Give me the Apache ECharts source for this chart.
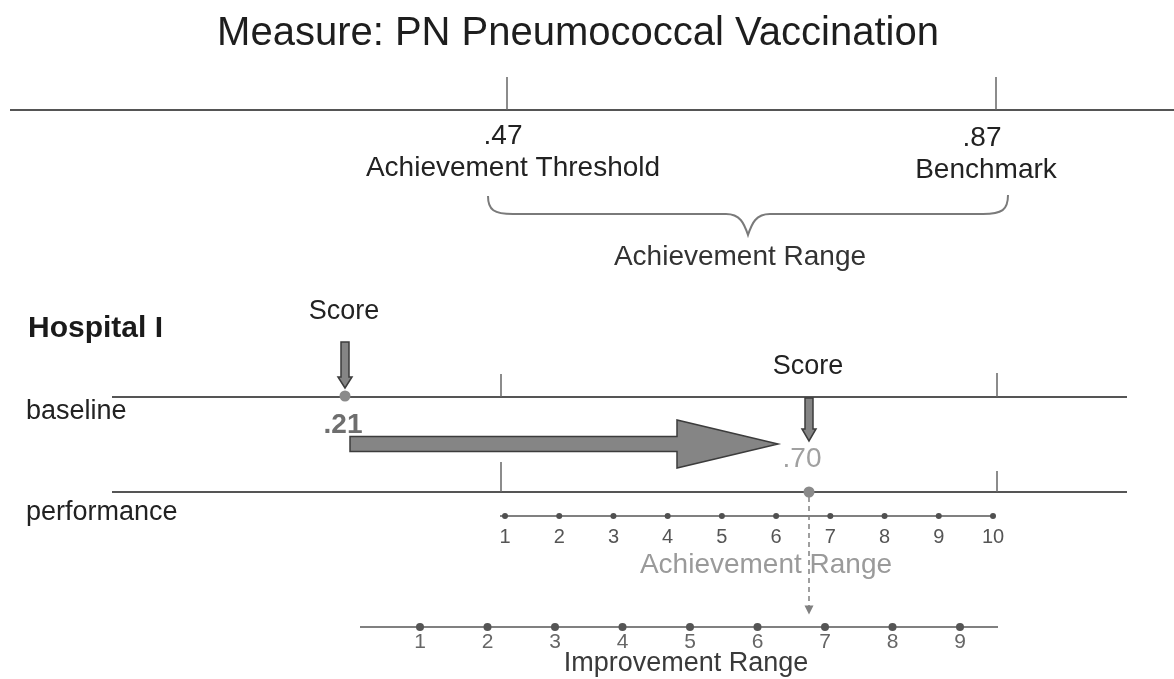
<!DOCTYPE html>
<html>
<head>
<meta charset="utf-8">
<script src="https://cdn.jsdelivr.net/npm/echarts@6/dist/echarts.min.js"></script>
<style>
  html, body { margin: 0; padding: 0; background: #ffffff; }
  #chart { width: 1174px; height: 679px; }
</style>
</head>
<body>
<div id="chart"></div>
<script>
// ---------------- DATA ----------------
const title = 'Measure: PN Pneumococcal Vaccination';
const scaleValues = ['.47', '.87'];
const scaleNames = ['Achievement Threshold', 'Benchmark'];
const hospitalName = 'Hospital I';
const rowNames = ['baseline', 'performance'];
const scoreLabel = 'Score';
const scores = ['.21', '.70'];
const achievementPoints = [1, 2, 3, 4, 5, 6, 7, 8, 9, 10];
const improvementPoints = [1, 2, 3, 4, 5, 6, 7, 8, 9];
const rangeNames = ['Achievement Range', 'Achievement Range', 'Improvement Range'];

// ---------------- LAYOUT (diagram units, 0..1174 x 0..679) ----------------
const W = 1174, H = 679;
const L = {
  topY: 110, baseY: 397, perfY: 492, achY: 516, impY: 627,
  scaleX: [507, 996],            // threshold / benchmark ticks (top scale)
  rowTickX: [501, 997],          // threshold / benchmark ticks on hospital rows
  scoreX: [345, 809],            // baseline / performance score positions
  ach: { first: 505, last: 993 },
  imp: { first: 420, last: 960 }
};
const FONT = 'Liberation Sans, Arial, Helvetica, sans-serif';

// achievement / improvement point scales (point number -> diagram x)
function axisRange(points, first, last) {
  const n0 = points[0], n1 = points[points.length - 1];
  const step = (last - first) / (n1 - n0);
  return { min: n0 - first / step, max: n1 + (W - last) / step };
}
const achRange = axisRange(achievementPoints, L.ach.first, L.ach.last);
const impRange = axisRange(improvementPoints, L.imp.first, L.imp.last);

// ---------------- RULES (lines) ----------------
const rules = [
  { coords: [[10, L.topY], [W, L.topY]], w: 2, c: '#555' },
  { coords: [[L.scaleX[0], 77], [L.scaleX[0], L.topY]], w: 1.5, c: '#666' },
  { coords: [[L.scaleX[1], 77], [L.scaleX[1], L.topY]], w: 1.5, c: '#666' },
  { coords: [[112, L.baseY], [1127, L.baseY]], w: 2, c: '#555' },
  { coords: [[L.rowTickX[0], 374], [L.rowTickX[0], L.baseY]], w: 1.5, c: '#666' },
  { coords: [[L.rowTickX[1], 373], [L.rowTickX[1], L.baseY]], w: 1.5, c: '#666' },
  { coords: [[112, L.perfY], [1127, L.perfY]], w: 2, c: '#555' },
  { coords: [[L.rowTickX[0], 462], [L.rowTickX[0], L.perfY]], w: 1.5, c: '#666' },
  { coords: [[L.rowTickX[1], 471], [L.rowTickX[1], L.perfY]], w: 1.5, c: '#666' },
  { coords: [[500, L.achY], [995, L.achY]], w: 2, c: '#808080' },
  { coords: [[360, L.impY], [998, L.impY]], w: 2, c: '#808080' }
];

// ---------------- TEXTS ----------------
const texts = [
  { x: 578, y: 34, t: title, size: 40, color: '#1e1e1e' },
  { x: 503, y: 136, t: scaleValues[0], size: 28, color: '#222' },
  { x: 513, y: 168, t: scaleNames[0], size: 28, color: '#222' },
  { x: 982, y: 138, t: scaleValues[1], size: 28, color: '#222' },
  { x: 986, y: 170, t: scaleNames[1], size: 28, color: '#222' },
  { x: 740, y: 257, t: rangeNames[0], size: 28, color: '#333' },
  { x: 28, y: 329, t: hospitalName, size: 30, color: '#1a1a1a', weight: 'bold', align: 'left' },
  { x: 344, y: 312, t: scoreLabel, size: 27, color: '#222' },
  { x: 808, y: 367, t: scoreLabel, size: 27, color: '#222' },
  { x: 26, y: 412, t: rowNames[0], size: 27, color: '#222', align: 'left' },
  { x: 26, y: 513, t: rowNames[1], size: 27, color: '#222', align: 'left' },
  { x: 343, y: 425, t: scores[0], size: 28, color: '#6e6e6e', weight: 'bold' },
  { x: 802, y: 459, t: scores[1], size: 28, color: '#a0a0a0' },
  { x: 766, y: 565, t: rangeNames[1], size: 28, color: '#9a9a9a' },
  { x: 686, y: 664, t: rangeNames[2], size: 27, color: '#3a3a3a' }
];

const option = {
  backgroundColor: '#ffffff',
  animation: false,
  grid: { left: 0, right: 0, top: 0, bottom: 0 },
  xAxis: [
    { type: 'value', min: 0, max: W, show: false },
    { type: 'value', min: achRange.min, max: achRange.max, show: false },
    { type: 'value', min: impRange.min, max: impRange.max, show: false }
  ],
  yAxis: [{ type: 'value', min: 0, max: H, inverse: true, show: false }],
  series: [
    {
      type: 'lines', coordinateSystem: 'cartesian2d', xAxisIndex: 0, yAxisIndex: 0,
      silent: true, z: 1,
      data: rules.map(r => ({ coords: r.coords, lineStyle: { width: r.w, color: r.c, opacity: 1 } }))
    },
    // dashed arrow from performance score down to improvement range
    {
      type: 'lines', coordinateSystem: 'cartesian2d', xAxisIndex: 0, yAxisIndex: 0,
      silent: true, z: 2,
      symbol: ['none', 'triangle'], symbolSize: [0, 9],
      lineStyle: { type: [5, 4], width: 1.5, color: '#808080', opacity: 1 },
      data: [{ coords: [[L.scoreX[1], L.perfY + 5], [L.scoreX[1], 610]] }]
    },
    // brace for achievement range
    {
      type: 'custom', coordinateSystem: 'cartesian2d', xAxisIndex: 0, yAxisIndex: 0,
      silent: true, z: 2,
      data: [[488, 1008, 196, 214, 235]],
      renderItem: function (params, api) {
        const x1 = api.value(0), x2 = api.value(1);
        const yEnd = api.value(2), yBar = api.value(3), yTip = api.value(4);
        const xm = (x1 + x2) / 2;
        const P = (x, y) => api.coord([x, y]);
        const a = P(x1, yEnd), b = P(x1 + 25, yBar), c = P(xm - 22, yBar), t = P(xm, yTip);
        const d = P(xm + 22, yBar), e = P(x2 - 25, yBar), f = P(x2, yEnd - 1);
        const path =
          'M' + a[0] + ' ' + a[1] +
          ' C' + a[0] + ' ' + (b[1] - 4) + ' ' + (a[0] + 6) + ' ' + b[1] + ' ' + b[0] + ' ' + b[1] +
          ' L' + c[0] + ' ' + c[1] +
          ' C' + (c[0] + 14) + ' ' + c[1] + ' ' + (t[0] - 4) + ' ' + (t[1] - 12) + ' ' + t[0] + ' ' + t[1] +
          ' C' + (t[0] + 4) + ' ' + (t[1] - 12) + ' ' + (d[0] - 14) + ' ' + d[1] + ' ' + d[0] + ' ' + d[1] +
          ' L' + e[0] + ' ' + e[1] +
          ' C' + (f[0] - 6) + ' ' + e[1] + ' ' + f[0] + ' ' + (e[1] - 4) + ' ' + f[0] + ' ' + f[1];
        return {
          type: 'path',
          shape: { pathData: path },
          style: { fill: null, stroke: '#7a7a7a', lineWidth: 2 }
        };
      }
    },
    // block arrows: [x1, y1, x2, y2, shaftHalf, headHalf, headLen]
    {
      type: 'custom', coordinateSystem: 'cartesian2d', xAxisIndex: 0, yAxisIndex: 0,
      silent: true, z: 3,
      data: [
        [350, 444, 778, 444, 7.5, 24, 101],
        [L.scoreX[0], 342, L.scoreX[0], 388, 4, 7, 11],
        [L.scoreX[1], 398, L.scoreX[1], 441, 4, 7, 12]
      ],
      renderItem: function (params, api) {
        const s = api.coord([api.value(0), api.value(1)]);
        const e = api.coord([api.value(2), api.value(3)]);
        const sh = api.value(4), hh = api.value(5), hl = api.value(6);
        const dx = e[0] - s[0], dy = e[1] - s[1];
        const len = Math.sqrt(dx * dx + dy * dy);
        const ux = dx / len, uy = dy / len, nx = -uy, ny = ux;
        const bx = e[0] - ux * hl, by = e[1] - uy * hl;
        const pts = [
          [s[0] + nx * sh, s[1] + ny * sh],
          [bx + nx * sh, by + ny * sh],
          [bx + nx * hh, by + ny * hh],
          [e[0], e[1]],
          [bx - nx * hh, by - ny * hh],
          [bx - nx * sh, by - ny * sh],
          [s[0] - nx * sh, s[1] - ny * sh]
        ];
        return {
          type: 'polygon',
          shape: { points: pts },
          style: { fill: '#858585', stroke: '#3c3c3c', lineWidth: 1.5 }
        };
      }
    },
    // score dots
    {
      type: 'scatter', xAxisIndex: 0, yAxisIndex: 0, silent: true, z: 4,
      symbolSize: 11,
      itemStyle: { color: '#8a8a8a', opacity: 1 },
      data: [[L.scoreX[0], L.baseY - 1], [L.scoreX[1], L.perfY]]
    },
    // achievement range points
    {
      type: 'scatter', xAxisIndex: 1, yAxisIndex: 0, silent: true, z: 4,
      symbolSize: 6,
      itemStyle: { color: '#505050', opacity: 1 },
      data: achievementPoints.map(p => [p, L.achY]),
      label: {
        show: true, position: 'inside', offset: [0, 21],
        formatter: p => String(p.value[0]),
        fontFamily: FONT, fontSize: 20, color: '#555'
      }
    },
    // improvement range points
    {
      type: 'scatter', xAxisIndex: 2, yAxisIndex: 0, silent: true, z: 4,
      symbolSize: 8,
      itemStyle: { color: '#555', opacity: 1 },
      data: improvementPoints.map(p => [p, L.impY]),
      label: {
        show: true, position: 'inside', offset: [0, 15],
        formatter: p => String(p.value[0]),
        fontFamily: FONT, fontSize: 21, color: '#666'
      }
    },
    // texts
    {
      type: 'custom', coordinateSystem: 'cartesian2d', xAxisIndex: 0, yAxisIndex: 0,
      silent: true, z: 5,
      data: texts.map(t => [t.x, t.y]),
      renderItem: function (params, api) {
        const t = texts[params.dataIndex];
        const p = api.coord([api.value(0), api.value(1)]);
        return {
          type: 'text',
          x: p[0], y: p[1],
          style: {
            text: t.t,
            fontFamily: FONT,
            fontSize: t.size,
            fontWeight: t.weight || 'normal',
            fill: t.color,
            align: t.align || 'center',
            verticalAlign: 'middle'
          }
        };
      }
    }
  ]
};

const chart = echarts.init(document.getElementById('chart'), null, { renderer: 'canvas' });
chart.setOption(option);
</script>
</body>
</html>
